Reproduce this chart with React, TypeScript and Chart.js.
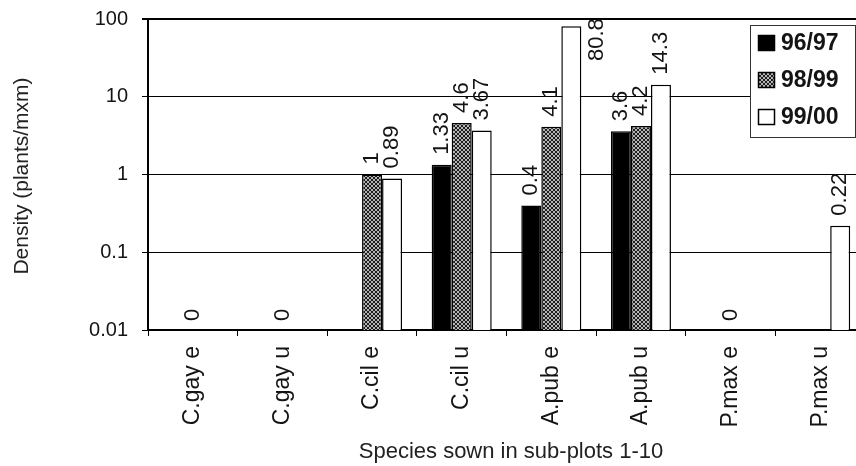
import React, { useEffect, useRef } from "react";
import { Chart, registerables } from "chart.js";

Chart.register(...registerables);

const categories = ["C.gay e", "C.gay u", "C.cil e", "C.cil u", "A.pub e", "A.pub u", "P.max e", "P.max u"];
const seriesNames = ["96/97", "98/99", "99/00"];
const series9697: (number | null)[] = [null, null, null, 1.33, 0.4, 3.6, null, null];
const series9899: (number | null)[] = [0, 0, 1, 4.6, 4.1, 4.2, 0, null];
const series9900: (number | null)[] = [null, null, 0.89, 3.67, 80.8, 14.3, null, 0.22];
const yTicks = [0.01, 0.1, 1, 10, 100];
const yTickLabels = ["0.01", "0.1", "1", "10", "100"];
const yTitle = "Density (plants/mxm)";
const xTitle = "Species sown in sub-plots 1-10";

const FONT = "'Liberation Sans', Arial, sans-serif";
const INK = "#141414";

function makeHatch(): CanvasPattern | string {
  const c = document.createElement("canvas");
  c.width = 4;
  c.height = 4;
  const g = c.getContext("2d");
  if (!g) return "#666";
  g.fillStyle = "#b4b4b4";
  g.fillRect(0, 0, 4, 4);
  g.fillStyle = "#1e1e1e";
  for (let i = 0; i < 4; i++) {
    g.fillRect(i, i, 1, 1);
    g.fillRect(3 - i, i, 1, 1);
  }
  const p = g.createPattern(c, "repeat");
  return p || "#666";
}

export default function App() {
  const ref = useRef<HTMLCanvasElement | null>(null);

  useEffect(() => {
    if (!ref.current) return;
    const hatch = makeHatch();
    const fills = ["#000000", hatch, "#ffffff"];
    const raw = [series9697, series9899, series9900];

    const labelPlugin = {
      id: "labels",
      afterDatasetsDraw(chart: any) {
        const ctx = chart.ctx as CanvasRenderingContext2D;
        const area = chart.chartArea;
        const xs = chart.scales.x;
        ctx.save();
        ctx.fillStyle = INK;
        ctx.font = `22px ${FONT}`;
        ctx.textAlign = "left";
        ctx.textBaseline = "middle";
        raw.forEach((arr, di) => {
          const meta = chart.getDatasetMeta(di);
          arr.forEach((v, i) => {
            if (v === null) return;
            const el: any = meta.data[i];
            let x = el && isFinite(el.x) ? el.x : xs.getPixelForValue(i);
            if (v === 0) {
              ctx.save();
              ctx.translate(x, area.bottom - 9);
              ctx.rotate(-Math.PI / 2);
              ctx.fillText("0", 0, 0);
              ctx.restore();
              return;
            }
            const text = String(v);
            const w = ctx.measureText(text).width;
            const top = el.y;
            ctx.save();
            if (top - 10 - w < area.top) {
              const bx = x + el.width / 2 + 16;
              ctx.translate(bx, top - 8 + w);
            } else {
              ctx.translate(x, top - 10);
            }
            ctx.rotate(-Math.PI / 2);
            ctx.fillText(text, 0, 0);
            ctx.restore();
          });
        });
        ctx.restore();
      },
      afterDraw(chart: any) {
        const ctx = chart.ctx as CanvasRenderingContext2D;
        ctx.save();
        ctx.fillStyle = "#222";
        ctx.font = `21px ${FONT}`;
        ctx.textAlign = "center";
        ctx.textBaseline = "middle";
        ctx.save();
        ctx.translate(22, 176);
        ctx.rotate(-Math.PI / 2);
        ctx.fillText(yTitle, 0, 0);
        ctx.restore();
        ctx.font = `22px ${FONT}`;
        ctx.fillText(xTitle, 511, 452);

        const lx = 750, ly = 25, lw = 106, lh = 113;
        ctx.fillStyle = "#fff";
        ctx.fillRect(lx, ly, lw, lh);
        ctx.strokeStyle = "#333";
        ctx.lineWidth = 1;
        ctx.strokeRect(lx + 0.5, ly + 0.5, lw - 1, lh - 1);
        const rows = [43, 80, 117];
        ctx.font = `bold 23px ${FONT}`;
        ctx.textAlign = "left";
        seriesNames.forEach((name, k) => {
          const cy = rows[k];
          ctx.fillStyle = fills[k] as any;
          ctx.fillRect(758, cy - 8, 17, 16);
          ctx.strokeStyle = "#000";
          ctx.lineWidth = 1.5;
          ctx.strokeRect(758.5, cy - 7.5, 16, 15);
          ctx.fillStyle = INK;
          ctx.fillText(name, 781, cy + 1);
        });
        ctx.restore();
      },
    };

    const chart = new Chart(ref.current, {
      type: "bar",
      data: {
        labels: categories,
        datasets: raw.map((arr, k) => ({
          label: seriesNames[k],
          data: arr as any,
          backgroundColor: fills[k] as any,
          borderColor: "#000",
          borderWidth: 1.5,
          categoryPercentage: 0.67,
          barPercentage: 1.0,
        })),
      },
      options: {
        animation: false,
        responsive: false,
        maintainAspectRatio: false,
        layout: { padding: { top: 19, right: 15, left: 0, bottom: 0 } },
        plugins: {
          legend: { display: false },
          tooltip: { enabled: false },
        },
        scales: {
          x: {
            type: "category",
            grid: {
              offset: true,
              drawOnChartArea: false,
              drawTicks: true,
              tickLength: 6,
              color: "#000",
              lineWidth: 1,
            },
            border: { display: true, color: "#000", width: 2 },
            ticks: {
              minRotation: 90,
              maxRotation: 90,
              padding: 10,
              color: INK,
              font: { size: 23, family: FONT },
              autoSkip: false,
            },
            afterFit: (scale: any) => {
              scale.height = 466 - 330;
              scale.paddingLeft = 0;
              scale.paddingRight = 0;
            },
          },
          y: {
            type: "logarithmic",
            min: 0.01,
            max: 100,
            afterBuildTicks: (scale: any) => {
              scale.ticks = yTicks.map((v) => ({ value: v }));
            },
            ticks: {
              padding: 14,
              color: INK,
              font: { size: 20, family: FONT },
              callback: (v: any) => {
                const idx = yTicks.indexOf(Number(v));
                return idx >= 0 ? yTickLabels[idx] : "";
              },
            },
            grid: {
              color: "#000",
              lineWidth: (c: any) => (c.tick && c.tick.value === 100 ? 2 : 1),
              tickLength: 6,
              drawTicks: true,
            },
            border: { display: true, color: "#000", width: 2 },
            afterFit: (scale: any) => {
              scale.width = 148;
              scale.paddingTop = 0;
              scale.paddingBottom = 0;
            },
          },
        },
      },
      plugins: [labelPlugin],
    });
    return () => chart.destroy();
  }, []);

  return (
    <div
      style={{
        position: "fixed",
        left: 0,
        top: 0,
        width: 856,
        height: 466,
        overflow: "hidden",
        background: "#fff",
      }}
    >
      <canvas ref={ref} width={880} height={466} style={{ width: 880, height: 466, display: "block" }} />
    </div>
  );
}
